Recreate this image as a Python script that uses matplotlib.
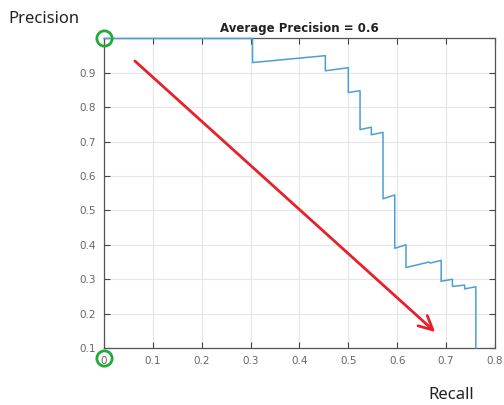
import matplotlib
matplotlib.use("Agg")
import matplotlib.pyplot as plt

recall = [0, 0.304, 0.304, 0.453, 0.453, 0.5, 0.5, 0.524, 0.524, 0.547, 0.547,
          0.571, 0.571, 0.595, 0.595, 0.618, 0.618, 0.665, 0.668, 0.69, 0.69,
          0.713, 0.713, 0.738, 0.738, 0.761, 0.761]
precision = [1.0, 1.0, 0.93, 0.95, 0.906, 0.915, 0.843, 0.848, 0.735, 0.742, 0.72,
             0.727, 0.534, 0.545, 0.39, 0.40, 0.334, 0.35, 0.347, 0.355, 0.294,
             0.30, 0.279, 0.283, 0.272, 0.278, 0.1]
xticks = [0, 0.1, 0.2, 0.3, 0.4, 0.5, 0.6, 0.7, 0.8]
xticklabels = ["0", "0.1", "0.2", "0.3", "0.4", "0.5", "0.6", "0.7", "0.8"]
yticks = [0.1, 0.2, 0.3, 0.4, 0.5, 0.6, 0.7, 0.8, 0.9, 1.0]
yticklabels = ["0.1", "0.2", "0.3", "0.4", "0.5", "0.6", "0.7", "0.8", "0.9", ""]
title = "Average Precision = 0.6"

fig = plt.figure(figsize=(5.04, 4.05), dpi=100)
ax = fig.add_axes([0.2063, 0.1407, 0.7757, 0.7643])
ax.plot(recall, precision, color="#4a9fd6", lw=1.1, zorder=5, clip_on=False)
ax.set_xlim(0, 0.8)
ax.set_ylim(0.1, 1.0)
ax.set_xticks(xticks)
ax.set_xticklabels(xticklabels)
ax.set_yticks(yticks)
ax.set_yticklabels(yticklabels)
ax.grid(True, color="#e6e6e6", lw=0.8)
ax.set_axisbelow(True)
ax.tick_params(direction="in", length=4, width=0.8, color="#444444",
               labelcolor="#666666", labelsize=7.5, top=True, right=True, pad=6)
for s in ax.spines.values():
    s.set_color("#555555")
    s.set_linewidth(0.9)
ax.set_title(title, fontsize=8.5, fontweight="bold", color="#222222", pad=5)

# annotations
ax.annotate("", xy=(0.682, 0.141), xytext=(0.059, 0.940),
            arrowprops=dict(arrowstyle="->,head_length=1.0,head_width=0.5",
                            color="#e8202a", lw=2.0), annotation_clip=False)
ax.plot([0], [1.0], marker="o", ms=11, mfc="none", mec="#1faa3a", mew=2,
        clip_on=False, zorder=6)
ax.plot([0], [0.071], marker="o", ms=11, mfc="none", mec="#1faa3a", mew=2,
        clip_on=False, zorder=6)

fig.text(0.016, 0.953, "Precision", fontsize=12, color="#222222",
         family="Noto Sans", va="center", ha="left")
fig.text(0.85, 0.025, "Recall", fontsize=12, color="#222222",
         family="Noto Sans", va="center", ha="left")

fig.savefig("out.png", dpi=100)
